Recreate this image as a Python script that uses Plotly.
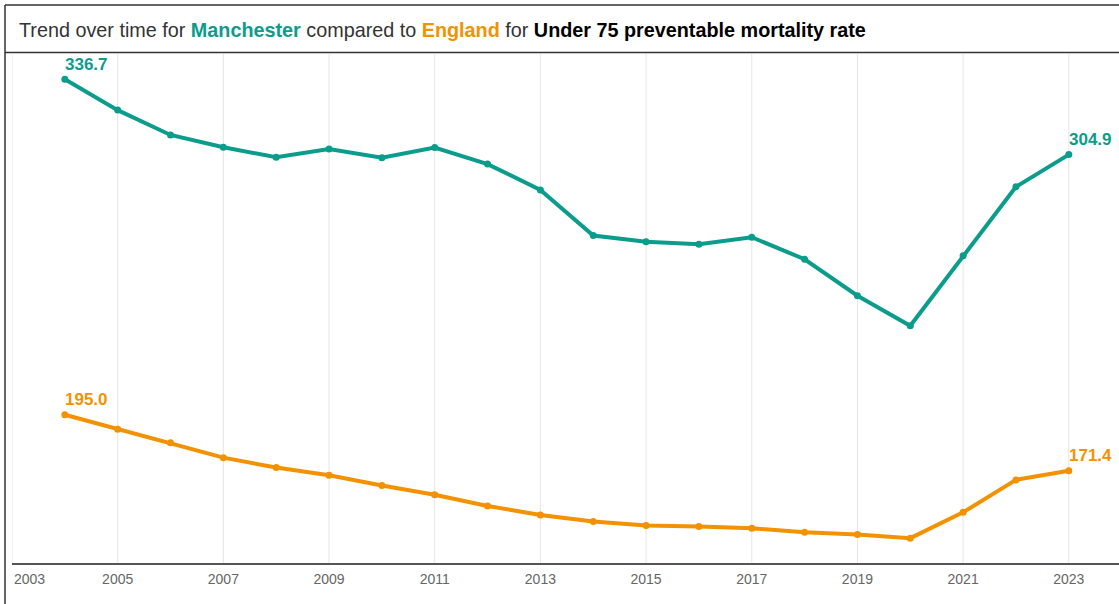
"""
Trend chart: Under 75 preventable mortality rate, Manchester vs England.
"""

import plotly.graph_objects as go

# Data
YEARS = [2004, 2005, 2006, 2007, 2008, 2009, 2010, 2011, 2012, 2013,
         2014, 2015, 2016, 2017, 2018, 2019, 2020, 2021, 2022, 2023]
MANCHESTER = [336.7, 323.7, 313.2, 308.0, 303.8, 307.3, 303.6, 307.9, 300.9, 290.0,
              270.7, 268.1, 267.0, 270.0, 260.7, 245.3, 232.6, 262.2, 291.3, 304.9]
ENGLAND = [195.0, 188.9, 183.2, 176.9, 172.7, 169.5, 165.1, 161.2, 156.5, 152.7,
           149.9, 148.2, 147.8, 147.1, 145.4, 144.4, 142.9, 153.8, 167.5, 171.4]
TICK_YEARS = [2005, 2007, 2009, 2011, 2013, 2015, 2017, 2019, 2021, 2023]
GRID_YEARS = [2003] + TICK_YEARS

AREA_NAME = "Manchester"
COMPARATOR = "England"
INDICATOR = "Under 75 preventable mortality rate"

TEAL = "#0c9c8c"
ORANGE = "#f39200"
FONT = "Arial, Liberation Sans, sans-serif"

# Page geometry (pixels)
W, H = 1119, 604
M_L, M_R, M_T, M_B = 12, 0, 54, 41
PLOT_W = W - M_L - M_R
PLOT_H = H - M_T - M_B


def px_x(px):
    """Pixel x -> paper coordinate"""
    return (px - M_L) / PLOT_W


def px_y(px):
    """Pixel y (from top) -> paper coordinate"""
    return (H - M_B - px) / PLOT_H


def series(name, values, color):
    return go.Scatter(
        x=YEARS, y=values, name=name,
        mode="lines+markers",
        line=dict(color=color, width=4),
        marker=dict(color=color, size=7),
        cliponaxis=False, showlegend=False,
        hovertemplate=f"{name}  %{{y:.1f}}<extra></extra>",
    )


def end_labels(values, color):
    """Value labels above the first and last points"""
    out = []
    for i in (0, len(values) - 1):
        out.append(dict(
            text=f"<b>{values[i]:.1f}</b>", x=YEARS[i], y=values[i],
            xref="x", yref="y", xanchor="left", yanchor="middle",
            xshift=-2, yshift=15, showarrow=False,
            font=dict(family=FONT, size=17, color=color),
        ))
    return out


fig = go.Figure()
fig.add_trace(series(AREA_NAME, MANCHESTER, TEAL))
fig.add_trace(series(COMPARATOR, ENGLAND, ORANGE))

title = (
    f"Trend over time for <b><span style='color:{TEAL}'>{AREA_NAME}</span></b>"
    f" compared to <b><span style='color:{ORANGE}'>{COMPARATOR}</span></b>"
    f" for <b><span style='color:#000'>{INDICATOR}</span></b>"
)

border = dict(type="line", xref="paper", yref="paper", layer="above",
              line=dict(color="#333333", width=1.5))

fig.update_layout(
    width=W, height=H,
    margin=dict(l=M_L, r=M_R, t=M_T, b=M_B),
    paper_bgcolor="white", plot_bgcolor="white",
    font=dict(family=FONT, size=14, color="#666666"),
    xaxis=dict(
        range=[2003, 2023.95],
        tickvals=TICK_YEARS, ticktext=[str(y) for y in TICK_YEARS],
        tickfont=dict(size=14, color="#666666"),
        ticklabelstandoff=2,
        showgrid=False, zeroline=False,
        showline=True, linecolor="#555555", linewidth=1.5,
        ticks="",
    ),
    yaxis=dict(range=[132.4, 347.4], visible=False),
    annotations=[
        dict(text=title, xref="paper", yref="paper", x=px_x(17), y=px_y(30),
             xanchor="left", yanchor="middle", showarrow=False,
             font=dict(family=FONT, size=19.8, color="#333333")),
        # first tick label sits at the left edge, shifted inward
        dict(text="2003", xref="x", yref="paper", x=2003, y=px_y(579),
             xanchor="left", yanchor="middle", showarrow=False,
             font=dict(family=FONT, size=14, color="#666666")),
        *end_labels(MANCHESTER, TEAL),
        *end_labels(ENGLAND, ORANGE),
    ],
    shapes=[
        # vertical gridlines every two years
        *[dict(type="line", xref="x", yref="paper", x0=yr, x1=yr, y0=0, y1=1,
               layer="below", line=dict(color="#e6e6e6", width=1)) for yr in GRID_YEARS],
        # outer frame: left edge, top edge, title separator
        dict(border, x0=px_x(5), x1=px_x(5), y0=px_y(5), y1=px_y(H)),
        dict(border, x0=px_x(5), x1=1, y0=px_y(5), y1=px_y(5)),
        dict(border, x0=px_x(5), x1=1, y0=px_y(52.5), y1=px_y(52.5)),
    ],
)

# drop the default page margin so the figure sits at the window's corner
fig.write_html("out.html", config={"displayModeBar": False},
               post_script="document.body.style.margin='0';")
